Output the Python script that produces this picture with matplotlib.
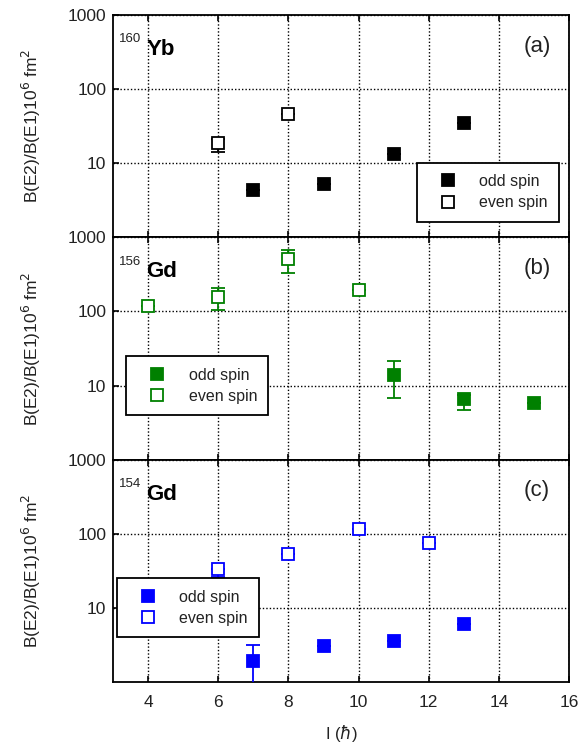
import numpy as np
import matplotlib.pyplot as plt
from matplotlib.ticker import NullLocator, FixedLocator
from matplotlib.lines import Line2D

plt.rcParams['font.family'] = ['Liberation Sans', 'DejaVu Sans']

# 160Yb
yb_odd_I = [7, 9, 11, 13]
yb_odd = [4.4, 5.2, 13.2, 35]
yb_odd_lo = [4.4, 5.2, 13.2, 35]
yb_odd_hi = [4.4, 5.2, 13.2, 35]
yb_even_I = [6, 8]
yb_even = [18.5, 46]
yb_even_lo = [14.2, 46]
yb_even_hi = [21, 46]

# 156Gd
gd6_odd_I = [11, 13, 15]
gd6_odd = [14, 6.6, 5.9]
gd6_odd_lo = [6.7, 4.7, 5.9]
gd6_odd_hi = [21.5, 7.4, 5.9]
gd6_even_I = [4, 6, 8, 10]
gd6_even = [120, 155, 510, 195]
gd6_even_lo = [120, 105, 330, 195]
gd6_even_hi = [120, 205, 680, 195]

# 154Gd
gd4_odd_I = [7, 9, 11, 13]
gd4_odd = [1.95, 3.05, 3.55, 6.1]
gd4_odd_lo = [0.5, 3.05, 3.55, 6.1]
gd4_odd_hi = [3.2, 3.05, 3.55, 6.1]
gd4_even_I = [6, 8, 10, 12]
gd4_even = [33, 54, 115, 74]
gd4_even_lo = [26, 54, 115, 74]
gd4_even_hi = [33, 54, 115, 74]

panels = [
    ('160', 'Yb', '(a)', 'black',
     (yb_odd_I, yb_odd, yb_odd_lo, yb_odd_hi),
     (yb_even_I, yb_even, yb_even_lo, yb_even_hi),
     (0.667, 0.335)),
    ('156', 'Gd', '(b)', '#008000',
     (gd6_odd_I, gd6_odd, gd6_odd_lo, gd6_odd_hi),
     (gd6_even_I, gd6_even, gd6_even_lo, gd6_even_hi),
     (0.029, 0.464)),
    ('154', 'Gd', '(c)', '#0000ff',
     (gd4_odd_I, gd4_odd, gd4_odd_lo, gd4_odd_hi),
     (gd4_even_I, gd4_even, gd4_even_lo, gd4_even_hi),
     (0.009, 0.466)),
]

fig = plt.figure(figsize=(5.86, 7.47), dpi=100)
left, width = 0.193, 0.778
top, bottom = 0.980, 0.087
h = (top - bottom) / 3

msize = 8
for k, (mass, elem, tag, col, odd, even, legpos) in enumerate(panels):
    ax = fig.add_axes([left, top - (k + 1) * h, width, h])
    ax.set_yscale('log')
    ax.set_xlim(3, 16)
    ax.set_ylim(1, 1000)

    for data, face in [(odd, col), (even, 'white')]:
        I, v, lo, hi = [np.array(a, dtype=float) for a in data]
        err = np.vstack([v - lo, hi - v])
        ax.errorbar(I, v, yerr=err, fmt='s', ms=msize, mfc=face, mec=col,
                    mew=1.3, ecolor=col, elinewidth=1.3, capsize=5,
                    capthick=1.3, zorder=3)

    ax.xaxis.set_major_locator(FixedLocator([4, 6, 8, 10, 12, 14, 16]))
    ax.yaxis.set_major_locator(FixedLocator([10, 100, 1000]))
    ax.yaxis.set_minor_locator(NullLocator())
    ax.set_yticklabels(['10', '100', '1000'])
    ax.grid(True, which='major', color='black', linestyle=(0, (1, 1.5)),
            linewidth=1.0)
    ax.tick_params(direction='in', top=True, length=4, width=1.2,
                   labelsize=12.5, colors='black')
    ax.tick_params(axis='y', labelcolor='#222222', pad=5)
    ax.tick_params(axis='x', labelcolor='#222222', pad=9)
    for s in ax.spines.values():
        s.set_linewidth(1.3)
    if k < 2:
        ax.tick_params(labelbottom=False)

    ax.set_ylabel(r'B(E2)/B(E1)10$^6$ fm$^2$', fontsize=12.5,
                  color='#222222')
    ax.yaxis.set_label_coords(-0.154, 0.5)

    ax.text(0.013, 0.89, mass, transform=ax.transAxes, fontsize=9.5,
            ha='left', va='center', color='#222222')
    ax.text(0.073, 0.845, elem, transform=ax.transAxes, fontsize=16,
            fontweight='bold', ha='left', va='center')
    ax.text(0.93, 0.86, tag, transform=ax.transAxes, fontsize=16,
            ha='center', va='center', color='#222222')

    handles = [
        Line2D([], [], linestyle='none', marker='s', ms=msize, mfc=col,
               mec=col, mew=1.3),
        Line2D([], [], linestyle='none', marker='s', ms=msize, mfc='white',
               mec=col, mew=1.3),
    ]
    leg = ax.legend(handles, ['odd spin', 'even spin'],
                    bbox_to_anchor=legpos, loc='upper left',
                    fontsize=11.5, frameon=True, fancybox=False,
                    edgecolor='black', framealpha=1, borderpad=0.7,
                    handlelength=2.4, handletextpad=0.8,
                    labelspacing=0.4, borderaxespad=0)
    leg.get_frame().set_linewidth(1.3)
    for t in leg.get_texts():
        t.set_color('#222222')
    leg.set_zorder(5)

ax.set_xlabel(r'I ($\hbar$)', fontsize=12, labelpad=10, color='#222222')
fig.savefig('out.png', dpi=100)
